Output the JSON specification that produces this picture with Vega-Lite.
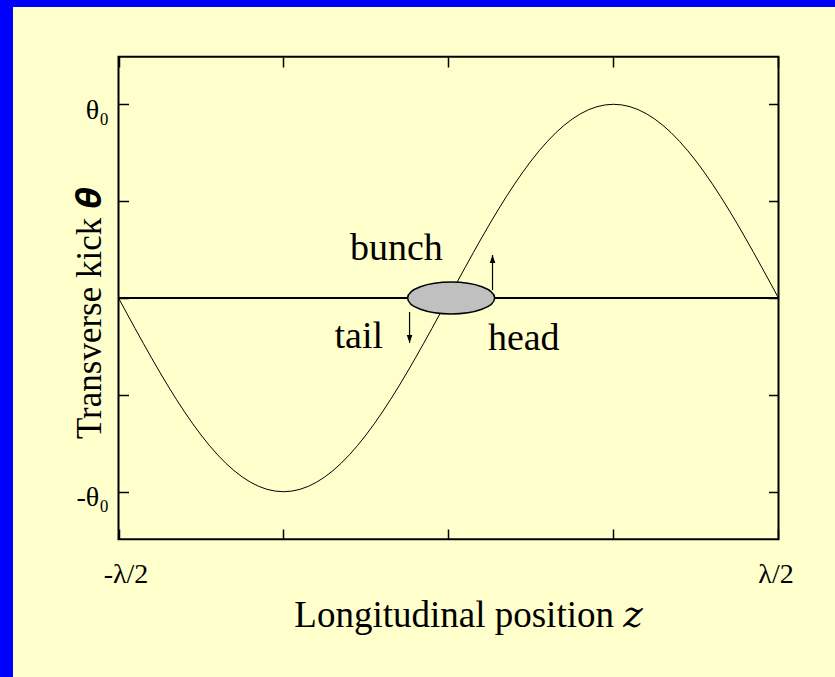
{
  "$schema": "https://vega.github.io/schema/vega-lite/v6.json",
  "background": "#0000FF",
  "padding": {"left": 13, "top": 7, "right": 0, "bottom": 0},
  "autosize": {"type": "none"},
  "width": 822,
  "height": 670,
  "config": {
    "view": {"fill": "#FFFFCC", "stroke": null},
    "font": "Liberation Serif"
  },
  "datasets": {
    "wave": [
      {"z": -0.5, "kick": 0},
      {"z": -0.4875, "kick": -0.07846},
      {"z": -0.475, "kick": -0.15643},
      {"z": -0.4625, "kick": -0.23345},
      {"z": -0.45, "kick": -0.30902},
      {"z": -0.4375, "kick": -0.38268},
      {"z": -0.425, "kick": -0.45399},
      {"z": -0.4125, "kick": -0.5225},
      {"z": -0.4, "kick": -0.58779},
      {"z": -0.3875, "kick": -0.64945},
      {"z": -0.375, "kick": -0.70711},
      {"z": -0.3625, "kick": -0.76041},
      {"z": -0.35, "kick": -0.80902},
      {"z": -0.3375, "kick": -0.85264},
      {"z": -0.325, "kick": -0.89101},
      {"z": -0.3125, "kick": -0.92388},
      {"z": -0.3, "kick": -0.95106},
      {"z": -0.2875, "kick": -0.97237},
      {"z": -0.275, "kick": -0.98769},
      {"z": -0.2625, "kick": -0.99692},
      {"z": -0.25, "kick": -1},
      {"z": -0.2375, "kick": -0.99692},
      {"z": -0.225, "kick": -0.98769},
      {"z": -0.2125, "kick": -0.97237},
      {"z": -0.2, "kick": -0.95106},
      {"z": -0.1875, "kick": -0.92388},
      {"z": -0.175, "kick": -0.89101},
      {"z": -0.1625, "kick": -0.85264},
      {"z": -0.15, "kick": -0.80902},
      {"z": -0.1375, "kick": -0.76041},
      {"z": -0.125, "kick": -0.70711},
      {"z": -0.1125, "kick": -0.64945},
      {"z": -0.1, "kick": -0.58779},
      {"z": -0.0875, "kick": -0.5225},
      {"z": -0.075, "kick": -0.45399},
      {"z": -0.0625, "kick": -0.38268},
      {"z": -0.05, "kick": -0.30902},
      {"z": -0.0375, "kick": -0.23345},
      {"z": -0.025, "kick": -0.15643},
      {"z": -0.0125, "kick": -0.07846},
      {"z": 0, "kick": 0},
      {"z": 0.0125, "kick": 0.07846},
      {"z": 0.025, "kick": 0.15643},
      {"z": 0.0375, "kick": 0.23345},
      {"z": 0.05, "kick": 0.30902},
      {"z": 0.0625, "kick": 0.38268},
      {"z": 0.075, "kick": 0.45399},
      {"z": 0.0875, "kick": 0.5225},
      {"z": 0.1, "kick": 0.58779},
      {"z": 0.1125, "kick": 0.64945},
      {"z": 0.125, "kick": 0.70711},
      {"z": 0.1375, "kick": 0.76041},
      {"z": 0.15, "kick": 0.80902},
      {"z": 0.1625, "kick": 0.85264},
      {"z": 0.175, "kick": 0.89101},
      {"z": 0.1875, "kick": 0.92388},
      {"z": 0.2, "kick": 0.95106},
      {"z": 0.2125, "kick": 0.97237},
      {"z": 0.225, "kick": 0.98769},
      {"z": 0.2375, "kick": 0.99692},
      {"z": 0.25, "kick": 1},
      {"z": 0.2625, "kick": 0.99692},
      {"z": 0.275, "kick": 0.98769},
      {"z": 0.2875, "kick": 0.97237},
      {"z": 0.3, "kick": 0.95106},
      {"z": 0.3125, "kick": 0.92388},
      {"z": 0.325, "kick": 0.89101},
      {"z": 0.3375, "kick": 0.85264},
      {"z": 0.35, "kick": 0.80902},
      {"z": 0.3625, "kick": 0.76041},
      {"z": 0.375, "kick": 0.70711},
      {"z": 0.3875, "kick": 0.64945},
      {"z": 0.4, "kick": 0.58779},
      {"z": 0.4125, "kick": 0.5225},
      {"z": 0.425, "kick": 0.45399},
      {"z": 0.4375, "kick": 0.38268},
      {"z": 0.45, "kick": 0.30902},
      {"z": 0.4625, "kick": 0.23345},
      {"z": 0.475, "kick": 0.15643},
      {"z": 0.4875, "kick": 0.07846},
      {"z": 0.5, "kick": 0}
    ],
    "frame": [{"z0": -0.5, "z1": 0.5, "k0": -1.245, "k1": 1.245}],
    "axisline": [{"z0": -0.5, "z1": 0.5, "kick": 0}],
    "bunch": [{"z": 0.004, "kick": 0}],
    "arrows": [
      {"end": "head", "z": 0.0667, "from": 0.041, "to": 0.222, "dir": "up"},
      {"end": "tail", "z": -0.059, "from": -0.072, "to": -0.232, "dir": "down"}
    ],
    "notes": [
      {"text": "bunch", "z": -0.079, "kick": 0.195},
      {"text": "tail", "z": -0.136, "kick": -0.258},
      {"text": "head", "z": 0.114, "kick": -0.27}
    ]
  },
  "layer": [
    {
      "data": {"name": "axisline"},
      "mark": {"type": "rule", "color": "black", "strokeWidth": 2},
      "encoding": {
        "x": {
          "field": "z0", "type": "quantitative",
          "scale": {"domain": [-0.65985, 0.58561], "nice": false, "zero": false},
          "axis": {
            "orient": "bottom", "offset": -138, "values": [-0.5, -0.25, 0, 0.25, 0.5],
            "domain": false, "grid": false,
            "tickSize": -10, "tickWidth": 1.5, "tickColor": "black",
            "labelExpr": "datum.value == -0.5 ? '-λ/2' : datum.value == 0.5 ? 'λ/2' : ''",
            "labelFont": "Liberation Serif", "labelFontSize": 28, "labelColor": "black",
            "labelPadding": 53, "labelBaseline": "alphabetic",
            "labelOffset": {"condition": {"test": "datum.value < 0", "value": 7}, "value": -3},
            "labelFlush": false, "labelOverlap": false, "labelBound": false,
            "title": "Longitudinal position 𝑧",
            "titleFont": "Liberation Serif, DejaVu Serif", "titleFontSize": 37, "titleFontWeight": "normal", "titleColor": "black",
            "titleX": 455, "titleY": 87, "titleBaseline": "alphabetic", "titleAlign": "center"
          }
        },
        "x2": {"field": "z1"},
        "y": {
          "field": "kick", "type": "quantitative",
          "scale": {"domain": [-1.9566, 1.5023], "nice": false, "zero": false},
          "axis": {
            "orient": "left", "offset": -105.5, "values": [-1, -0.5, 0, 0.5, 1],
            "domain": false, "grid": false,
            "tickSize": -10, "tickWidth": 1.5, "tickColor": "black",
            "labelExpr": "datum.value == 1 ? 'θ₀' : datum.value == -1 ? '-θ₀' : ''",
            "labelFont": "Liberation Serif", "labelFontSize": 28, "labelColor": "black",
            "labelPadding": 20, "labelBaseline": "alphabetic", "labelOffset": 14,
            "labelOverlap": false, "labelBound": false, "labelFlush": false,
            "title": "Transverse kick 𝜽",
            "titleFont": "Liberation Serif, DejaVu Serif", "titleFontSize": 35, "titleFontWeight": "normal", "titleColor": "black",
            "titleX": -18, "titleY": 306, "titleBaseline": "alphabetic", "titleAlign": "center", "titleAngle": 270
          }
        }
      }
    },
    {
      "data": {"name": "wave"},
      "mark": {"type": "line", "color": "black", "strokeWidth": 1},
      "encoding": {
        "x": {
          "field": "z", "type": "quantitative",
          "axis": {
            "orient": "top", "offset": -50, "values": [-0.5, -0.25, 0, 0.25, 0.5],
            "domain": false, "grid": false, "labels": false, "title": null,
            "tickSize": -10, "tickWidth": 1.5, "tickColor": "black"
          }
        },
        "y": {
          "field": "kick", "type": "quantitative",
          "axis": {
            "orient": "right", "offset": -56.5, "values": [-1, -0.5, 0, 0.5, 1],
            "domain": false, "grid": false, "labels": false, "title": null,
            "tickSize": -10, "tickWidth": 1.5, "tickColor": "black"
          }
        }
      }
    },
    {
      "data": {"name": "frame"},
      "mark": {"type": "rect", "fill": null, "fillOpacity": 0, "stroke": "black", "strokeWidth": 2},
      "encoding": {
        "x": {"field": "z0", "type": "quantitative", "axis": null},
        "x2": {"field": "z1"},
        "y": {"field": "k0", "type": "quantitative", "axis": null},
        "y2": {"field": "k1"}
      }
    },
    {
      "data": {"name": "bunch"},
      "mark": {
        "type": "point",
        "shape": "M-1,0A1,0.368,0,1,1,1,0A1,0.368,0,1,1,-1,0Z",
        "size": 7569, "filled": true, "fill": "#C0C0C0", "stroke": "black",
        "strokeWidth": 1.5, "opacity": 1, "fillOpacity": 1, "strokeOpacity": 1
      },
      "encoding": {
        "x": {"field": "z", "type": "quantitative", "axis": null},
        "y": {"field": "kick", "type": "quantitative", "axis": null}
      }
    },
    {
      "data": {"name": "arrows"},
      "mark": {"type": "rule", "color": "black", "strokeWidth": 1.2},
      "encoding": {
        "x": {"field": "z", "type": "quantitative", "axis": null},
        "y": {"field": "from", "type": "quantitative", "axis": null},
        "y2": {"field": "to"}
      }
    },
    {
      "data": {"name": "arrows"},
      "mark": {"type": "point", "filled": true, "color": "black", "size": 256, "opacity": 1, "strokeWidth": 0},
      "encoding": {
        "x": {"field": "z", "type": "quantitative", "axis": null},
        "y": {"field": "to", "type": "quantitative", "axis": null},
        "shape": {
          "field": "dir", "type": "nominal", "legend": null,
          "scale": {"domain": ["up", "down"], "range": ["M0,0L-0.35,1L0.35,1Z", "M0,0L-0.35,-1L0.35,-1Z"]}
        }
      }
    },
    {
      "data": {"name": "notes"},
      "mark": {"type": "text", "font": "Liberation Serif", "fontSize": 38, "color": "black", "align": "center", "baseline": "alphabetic"},
      "encoding": {
        "x": {"field": "z", "type": "quantitative", "axis": null},
        "y": {"field": "kick", "type": "quantitative", "axis": null},
        "text": {"field": "text"}
      }
    }
  ],
  "resolve": {"axis": {"x": "independent", "y": "independent"}}
}
